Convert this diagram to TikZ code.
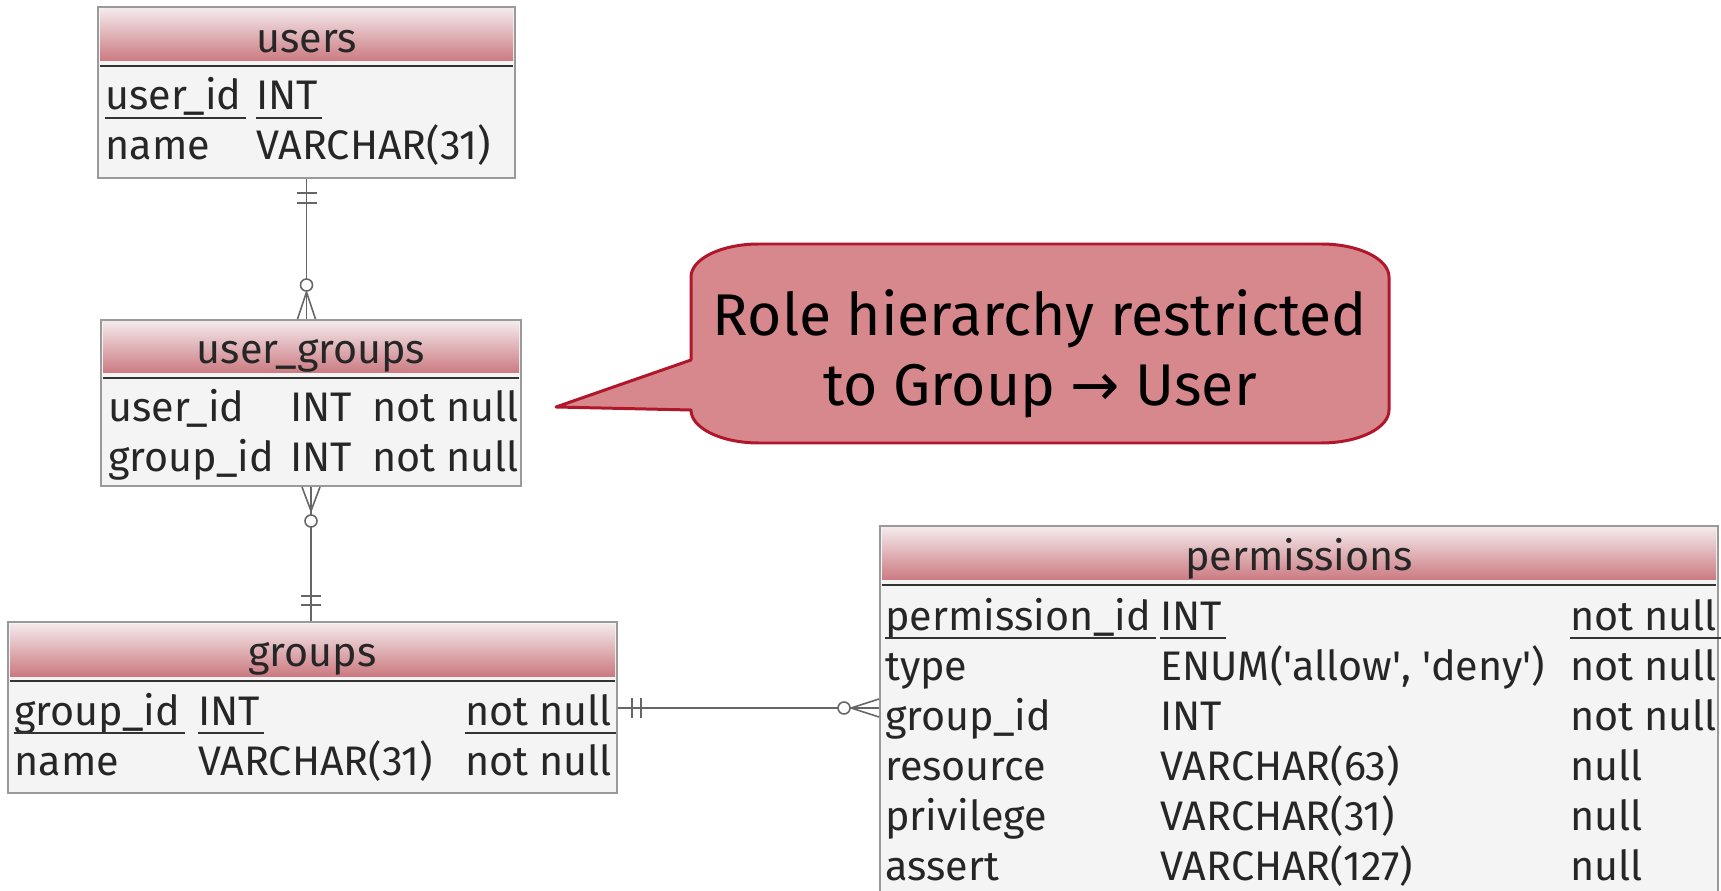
\documentclass[tikz,border=0pt]{standalone}
\usepackage{fontspec}
\setmainfont{Fira Sans}
\newfontfamily\arrowfont{DejaVu Sans}
\usetikzlibrary{calc,fit}
\definecolor{tablebg}{HTML}{F4F4F4}
\definecolor{tableline}{HTML}{9A9A9A}
\definecolor{hdrtop}{HTML}{F3E8EA}
\definecolor{hdrbot}{HTML}{CB7A81}
\definecolor{notefill}{HTML}{D6888D}
\definecolor{noteline}{HTML}{B0172B}
\definecolor{erline}{HTML}{666666}
\newcommand{\erfont}{\fontsize{23.5}{30}\selectfont}
\newcommand{\sq}{\textquotesingle}
\tikzset{
  tbl/.style={draw=tableline, fill=tablebg, line width=1.1pt, inner sep=0pt},
  hdr/.style={top color=hdrtop, bottom color=hdrbot, inner sep=0pt},
  ttl/.style={anchor=base, inner sep=0pt, text=black!85, font=\erfont},
  cell/.style={anchor=base west, inner sep=0pt, text=black!85, font=\erfont},
  ul/.style={draw=black!80, line width=1pt},
  sepline/.style={draw=black!80, line width=1.2pt},
  er/.style={draw=erline, line width=0.9pt},
  note/.style={draw=noteline, fill=notefill, line width=1.7pt, line join=round},
}
\begin{document}
\begin{tikzpicture}[x=0.02cm, y=-0.02cm]
\useasboundingbox (0,0) rectangle (1721,891);

% users
\node[tbl, fit={(98,7) (515,178)}] (users) {};
\node[hdr, fit={(100,9) (513,61)}] (users-h) {};
\draw[sepline] ($(users-h.south west)+(0,5)$) -- ($(users-h.south east)+(0,5)$);
\node[ttl] (users-t) at ($(users-h.south)+(0,-9)$) {users};
\node[cell] (users-uid) at (105,110) {user\_id};
\node[cell] (users-uidt) at (256,110) {INT};
\node[cell] (users-nm) at (105,160) {name};
\node[cell] (users-nmt) at (256,160) {VARCHAR(31)};

% user_groups
\node[tbl, fit={(101,320) (521,486)}] (ugroups) {};
\node[hdr, fit={(103,322) (519,373)}] (ugroups-h) {};
\draw[sepline] ($(ugroups-h.south west)+(0,5)$) -- ($(ugroups-h.south east)+(0,5)$);
\node[ttl] (ugroups-t) at ($(ugroups-h.south)+(0,-10)$) {user\_groups};
\node[cell] (ugroups-uid) at (108,422) {user\_id};
\node[cell] (ugroups-uidt) at (290,422) {INT};
\node[cell] (ugroups-uidn) at (372,422) {not null};
\node[cell] (ugroups-gid) at (108,472) {group\_id};
\node[cell] (ugroups-gidt) at (290,472) {INT};
\node[cell] (ugroups-gidn) at (372,472) {not null};

% groups
\node[tbl, fit={(8,622) (617,793)}] (groups) {};
\node[hdr, fit={(10,624) (615,676)}] (groups-h) {};
\draw[sepline] ($(groups-h.south west)+(0,5)$) -- ($(groups-h.south east)+(0,5)$);
\node[ttl] (groups-t) at ($(groups-h.south)+(0,-10)$) {groups};
\node[cell] (groups-gid) at (14,725) {group\_id};
\node[cell] (groups-gidt) at (198,725) {INT};
\node[cell] (groups-gidn) at (465,725) {not null};
\node[cell] (groups-nm) at (14,775) {name};
\node[cell] (groups-nmt) at (198,775) {VARCHAR(31)};
\node[cell] (groups-nmn) at (465,775) {not null};

% permissions
\node[tbl, fit={(880,526) (1718,896)}] (perm) {};
\node[hdr, fit={(882,528) (1716,580)}] (perm-h) {};
\draw[sepline] ($(perm-h.south west)+(0,5)$) -- ($(perm-h.south east)+(0,5)$);
\node[ttl] (perm-t) at ($(perm-h.south)+(0,-10)$) {permissions};
\foreach \r/\c/\t/\n [count=\i] in {
    pid/permission\_id/INT/not null,
    typ/type/{ENUM(\sq allow\sq, \sq deny\sq)}/not null,
    gid/group\_id/INT/not null,
    res/resource/VARCHAR(63)/null,
    prv/privilege/VARCHAR(31)/null,
    ast/assert/VARCHAR(127)/null} {
  \node[cell] (perm-\r) at (885,580+50*\i) {\c};
  \node[cell] (perm-\r-t) at (1160,580+50*\i) {\t};
  \node[cell] (perm-\r-n) at (1570,580+50*\i) {\n};
}

% primary keys
\foreach \n in {users-uid,users-uidt,groups-gid,groups-gidt,groups-gidn,perm-pid,perm-pid-t,perm-pid-n}
  \draw[ul] ($(\n.base west)+(0,8)$) -- ($(\n.base east)+(4,8)$);

% users -- user_groups
\draw[er] (users.south) -- (users.south |- ugroups.north);
\foreach \d in {14,24}
  \draw[er] ($(users.south)+(-10,\d)$) -- ++(20,0);
\draw[er] ($(users.south |- ugroups.north)+(-9,0)$) -- ++(9,-27) -- ++(9,27);
\draw[er, fill=white] ($(users.south |- ugroups.north)+(0,-34)$) circle[radius=0.12cm];

% user_groups -- groups
\draw[er] (ugroups.south) -- (ugroups.south |- groups.north);
\draw[er] ($(ugroups.south)+(-9,0)$) -- ++(9,24) -- ++(9,-24);
\draw[er, fill=white] ($(ugroups.south)+(0,34)$) circle[radius=0.12cm];
\foreach \d in {16,25}
  \draw[er] ($(ugroups.south |- groups.north)+(-10,-\d)$) -- ++(20,0);

% groups -- permissions
\coordinate (gid-rel) at ($(groups-gid.base)+(0,-17)$);
\draw[er] (groups.east |- gid-rel) -- (perm.west |- gid-rel);
\foreach \d in {14,23}
  \draw[er] ($(groups.east |- gid-rel)+(\d,-10)$) -- ++(0,20);
\draw[er] ($(perm.west |- gid-rel)+(0,-9)$) -- ++(-28,9) -- ++(28,9);
\draw[er, fill=white] ($(perm.west |- gid-rel)+(-35,0)$) circle[radius=0.12cm];

% note
\draw[note] (556,407) -- (691,360) -- (691,277)
  .. controls (691,259) and (721,244) .. (759,244) -- (1321,244)
  .. controls (1359,244) and (1389,259) .. (1389,277) -- (1389,410)
  .. controls (1389,428) and (1359,443) .. (1321,443) -- (759,443)
  .. controls (721,443) and (691,428) .. (691,410) -- cycle;
\node[align=center, inner sep=0pt, font=\fontsize{33.5}{39.7}\selectfont] (note) at (1040,354)
  {Role hierarchy restricted\\to Group {\arrowfont →} User};
\end{tikzpicture}
\end{document}
